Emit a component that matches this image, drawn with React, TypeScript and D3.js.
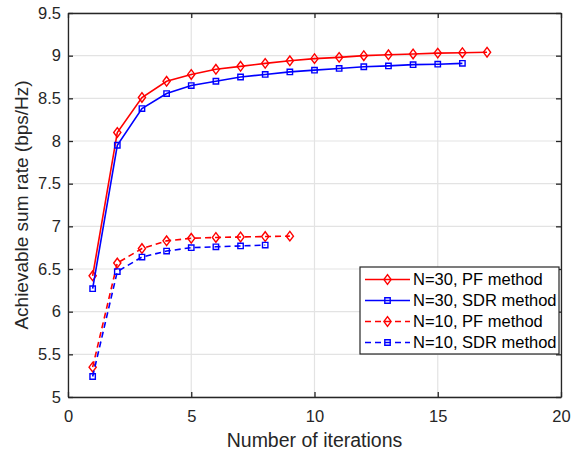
import React, { useEffect, useRef } from 'react';
import * as d3 from 'd3';

// values
const iters30 = [1, 2, 3, 4, 5, 6, 7, 8, 9, 10, 11, 12, 13, 14, 15, 16, 17];
const pf30 = [6.42, 8.1, 8.51, 8.7, 8.78, 8.84, 8.875, 8.91, 8.94, 8.965, 8.98, 9.0, 9.01, 9.02, 9.03, 9.035, 9.04];
const sdr30 = [6.27, 7.95, 8.38, 8.556, 8.65, 8.7, 8.75, 8.78, 8.81, 8.83, 8.85, 8.87, 8.88, 8.895, 8.9, 8.91];
const pf10 = [5.35, 6.57, 6.74, 6.83, 6.86, 6.87, 6.875, 6.88, 6.885];
const sdr10 = [5.24, 6.47, 6.64, 6.71, 6.75, 6.76, 6.77, 6.78];
const xTicks = [0, 5, 10, 15, 20];
const yTicks = [5, 5.5, 6, 6.5, 7, 7.5, 8, 8.5, 9, 9.5];

const seriesList = [
  { name: 'N=30, PF method', values: pf30, color: '#ff0000', dash: null, marker: 'diamond' },
  { name: 'N=30, SDR method', values: sdr30, color: '#0000ff', dash: null, marker: 'square' },
  { name: 'N=10, PF method', values: pf10, color: '#ff0000', dash: '6,4', marker: 'diamond' },
  { name: 'N=10, SDR method', values: sdr10, color: '#0000ff', dash: '6,4', marker: 'square' },
];

function markerPath(type: string, x: number, y: number) {
  if (type === 'diamond') {
    return `M${x},${y - 4.8}L${x + 3.6},${y}L${x},${y + 4.8}L${x - 3.6},${y}Z`;
  }
  const s = 2.7;
  return `M${x - s},${y - s}H${x + s}V${y + s}H${x - s}Z`;
}

function Chart() {
  const ref = useRef<SVGSVGElement>(null);

  useEffect(() => {
    drawChart();
  });

  function drawChart() {
    const width = 578;
    const height = 451;
    const margin = { top: 13, right: 17, bottom: 54, left: 68 };
    const font = 'Liberation Sans, Arial, sans-serif';
    const axisColor = '#262626';

    const svg = d3.select(ref.current);
    svg.selectAll('*').remove();

    const x = d3.scaleLinear().domain([0, 20]).range([margin.left, width - margin.right]);
    const y = d3.scaleLinear().domain([5, 9.5]).range([height - margin.bottom, margin.top]);

    // grid
    const grid = svg.append('g');
    xTicks.forEach(t => {
      grid.append('line')
        .attr('x1', x(t)).attr('x2', x(t))
        .attr('y1', y(5)).attr('y2', y(9.5))
        .attr('stroke', '#e3e3e3').attr('stroke-width', 1.2);
    });
    yTicks.forEach(t => {
      grid.append('line')
        .attr('x1', x(0)).attr('x2', x(20))
        .attr('y1', y(t)).attr('y2', y(t))
        .attr('stroke', '#e3e3e3').attr('stroke-width', 1.2);
    });

    // axes (box with inward ticks on all sides)
    const bottomAxis = d3.axisBottom(x).tickValues(xTicks).tickSizeInner(-5).tickSizeOuter(0).tickPadding(13);
    const leftAxis = d3.axisLeft(y).tickValues(yTicks).tickSizeInner(-5).tickSizeOuter(0).tickPadding(7)
      .tickFormat(d => String(d));
    const topAxis = d3.axisTop(x).tickValues(xTicks).tickSizeInner(-5).tickSizeOuter(0).tickFormat(() => '');
    const rightAxis = d3.axisRight(y).tickValues(yTicks).tickSizeInner(-5).tickSizeOuter(0).tickFormat(() => '');

    const gb = svg.append('g').attr('transform', `translate(0,${y(5)})`).call(bottomAxis);
    const gl = svg.append('g').attr('transform', `translate(${x(0)},0)`).call(leftAxis);
    const gt = svg.append('g').attr('transform', `translate(0,${y(9.5)})`).call(topAxis);
    const gr = svg.append('g').attr('transform', `translate(${x(20)},0)`).call(rightAxis);
    [gb, gl, gt, gr].forEach(g => {
      g.select('.domain').attr('stroke', axisColor).attr('stroke-width', 1.3);
      g.selectAll('.tick line').attr('stroke', axisColor).attr('stroke-width', 1.3);
      g.selectAll('text').attr('fill', axisColor).style('font-family', font).style('font-size', '16.5px');
    });

    // series
    seriesList.forEach(s => {
      const pts = s.values.map((v, i) => [iters30[i], v] as [number, number]);
      const line = d3.line<[number, number]>().x(d => x(d[0])).y(d => y(d[1]));
      svg.append('path')
        .datum(pts)
        .attr('d', line)
        .attr('fill', 'none')
        .attr('stroke', s.color)
        .attr('stroke-width', 1.6)
        .attr('stroke-dasharray', s.dash);
      svg.append('g')
        .selectAll('path')
        .data(pts)
        .enter()
        .append('path')
        .attr('d', d => markerPath(s.marker, x(d[0]), y(d[1])))
        .attr('fill', 'none')
        .attr('stroke', s.color)
        .attr('stroke-width', 1.4);
    });

    // axis labels
    svg.append('text')
      .attr('x', (x(0) + x(20)) / 2)
      .attr('y', 447)
      .style('text-anchor', 'middle')
      .style('font-family', font)
      .style('font-size', '19.5px')
      .attr('fill', axisColor)
      .text('Number of iterations');

    svg.append('text')
      .attr('transform', `translate(28,${(y(5) + y(9.5)) / 2}) rotate(-90)`)
      .style('text-anchor', 'middle')
      .style('font-family', font)
      .style('font-size', '19px')
      .attr('fill', axisColor)
      .text('Achievable sum rate (bps/Hz)');

    // legend
    const lg = svg.append('g').attr('transform', 'translate(360,267)');
    lg.append('rect')
      .attr('width', 199).attr('height', 87)
      .attr('fill', 'white')
      .attr('stroke', axisColor).attr('stroke-width', 1.2);
    seriesList.forEach((s, i) => {
      const cy = 12.5 + i * 21;
      lg.append('line')
        .attr('x1', 5).attr('x2', 50)
        .attr('y1', cy).attr('y2', cy)
        .attr('stroke', s.color).attr('stroke-width', 1.6)
        .attr('stroke-dasharray', s.dash);
      lg.append('path')
        .attr('d', markerPath(s.marker, 27.5, cy))
        .attr('fill', 'none')
        .attr('stroke', s.color).attr('stroke-width', 1.4);
      lg.append('text')
        .attr('x', 53).attr('y', cy + 5.5)
        .style('font-family', font)
        .style('font-size', '16.5px')
        .attr('fill', '#000')
        .text(s.name);
    });
  }

  return (
    <svg ref={ref} width={578} height={451}
      style={{ position: 'absolute', left: 0, top: 0, background: 'white' }} />
  );
}

export default function App() {
  return <Chart />;
}
